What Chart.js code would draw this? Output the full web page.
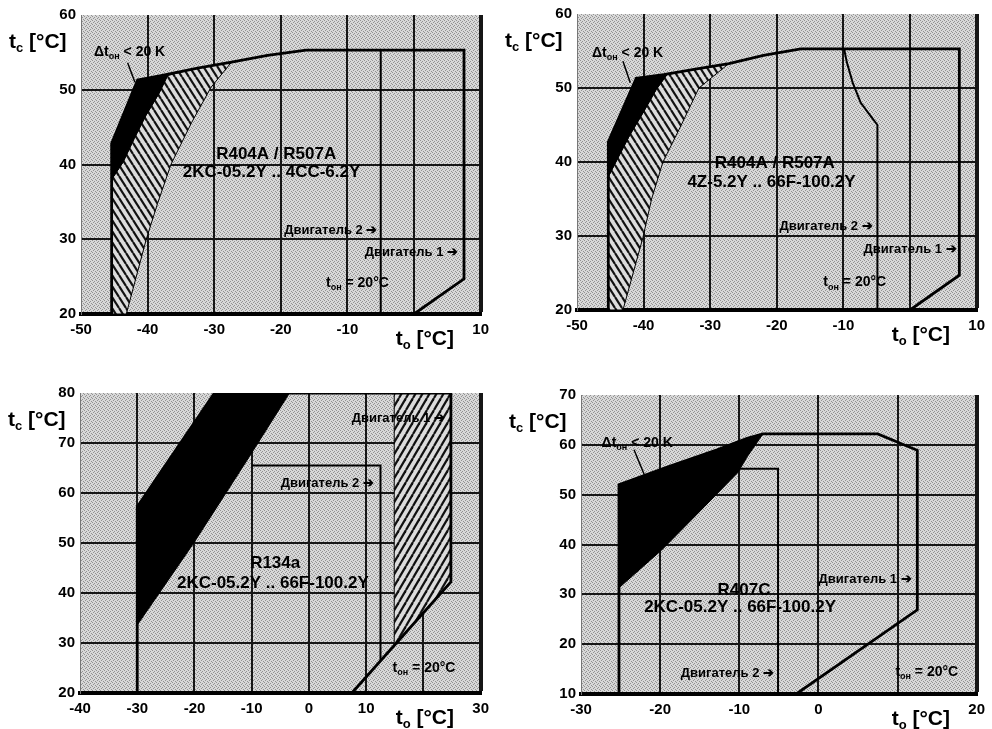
<!DOCTYPE html>
<html lang="ru">
<head>
  <meta charset="UTF-8">
  <title>Области применения компрессоров</title>
  <script src="https://cdn.jsdelivr.net/npm/chart.js"></script>
  <style>
    body { margin: 0; background: #fff; overflow: hidden; }
    canvas { position: absolute; }
  </style>
</head>
<body>

  <canvas id="c1" width="496" height="362" style="left:0;top:0"></canvas>
  <canvas id="c2" width="496" height="362" style="left:496px;top:0"></canvas>
  <canvas id="c3" width="496" height="367" style="left:0;top:362px"></canvas>
  <canvas id="c4" width="496" height="367" style="left:496px;top:362px"></canvas>

  <script>
    // ---- R404A / R507A, 2KC-05.2Y .. 4CC-6.2Y (top left)
    const p1XRange = [-50, 10];
    const p1YRange = [20, 60];
    const p1XLabels = [-50, -40, -30, -20, -10, 10];   // 0 is hidden by the axis title
    const p1YLabels = [20, 30, 40, 50, 60];
    const p1Envelope = [[-45.4, 20], [-45.4, 42.8], [-41.5, 51.3], [-38, 51.9], [-32.5, 52.9], [-27.4, 53.7], [-22, 54.6], [-16.2, 55.3], [7.5, 55.3], [7.5, 24.7], [0, 20]];
    const p1Motor2 = [[-5, 55.3], [-5, 20]];
    const p1Dark = [[-45.4, 38], [-45.4, 42.8], [-41.5, 51.3], [-37, 51.9], [-38.3, 49.5], [-40.3, 46.5], [-42, 43.5], [-43.7, 40.3]];
    const p1Hatch = [[-45.4, 20], [-45.4, 38], [-43.7, 40.3], [-42, 43.5], [-40.3, 46.5], [-38.3, 49.5], [-37, 51.9], [-32.5, 52.9], [-27.4, 53.7], [-30.5, 50.3], [-33.4, 45.6], [-36.5, 40], [-38.5, 34.8], [-40.2, 30], [-43.2, 20]];
    const p1Leader = [[-43, 53.6], [-41.9, 51]];
    const p1Notes = [
      { x: -42.7, y: 55, kind: 'small', text: 'Δt_{он} < 20 K' },
      { x: -20.7, y: 41.3, kind: 'big', text: 'R404A / R507A' },
      { x: -21.4, y: 38.9, kind: 'big', text: '2KC-05.2Y .. 4CC-6.2Y' },
      { x: -12.5, y: 31.2, kind: 'motor', text: 'Двигатель 2 ➔' },
      { x: -0.4, y: 28.3, kind: 'motor', text: 'Двигатель 1 ➔' },
      { x: -8.5, y: 24.1, kind: 'small', text: 't_{он} = 20°C' }
    ];

    // ---- R404A / R507A, 4Z-5.2Y .. 66F-100.2Y (top right)
    const p2XRange = [-50, 10];
    const p2YRange = [20, 60];
    const p2XLabels = [-50, -40, -30, -20, -10, 10];
    const p2YLabels = [20, 30, 40, 50, 60];
    const p2Envelope = [[-45.3, 20], [-45.3, 42.7], [-41.1, 51.3], [-37, 51.8], [-32, 52.6], [-27.2, 53.3], [-22, 54.4], [-16.4, 55.3], [7.4, 55.3], [7.4, 24.7], [0, 20]];
    const p2Motor2 = [[-9.9, 55.3], [-9.5, 53.5], [-8.6, 50.7], [-7.4, 48], [-5.9, 46.2], [-4.9, 45], [-4.9, 20]];
    const p2Dark = [[-45.3, 38], [-45.3, 42.7], [-41.1, 51.3], [-36.5, 51.8], [-38.1, 49.8], [-40, 46.8], [-42.1, 43.6], [-44, 40.3]];
    const p2Hatch = [[-45.3, 20], [-45.3, 38], [-44, 40.3], [-42.1, 43.6], [-40, 46.8], [-38.1, 49.8], [-36.5, 51.8], [-32, 52.6], [-27.2, 53.3], [-31.7, 50], [-34.4, 44.9], [-37.1, 40], [-38.8, 35], [-40.1, 29.8], [-43.1, 20]];
    const p2Leader = [[-43.1, 53.6], [-42, 50.7]];
    const p2Notes = [
      { x: -42.4, y: 54.7, kind: 'small', text: 'Δt_{он} < 20 K' },
      { x: -20.3, y: 39.8, kind: 'big', text: 'R404A / R507A' },
      { x: -20.8, y: 37.3, kind: 'big', text: '4Z-5.2Y .. 66F-100.2Y' },
      { x: -12.6, y: 31.3, kind: 'motor', text: 'Двигатель 2 ➔' },
      { x: 0, y: 28.2, kind: 'motor', text: 'Двигатель 1 ➔' },
      { x: -8.3, y: 23.7, kind: 'small', text: 't_{он} = 20°C' }
    ];

    // ---- R134a (bottom left)
    const p3XRange = [-40, 30];
    const p3YRange = [20, 80];
    const p3XLabels = [-40, -30, -20, -10, 0, 10, 30];
    const p3YLabels = [20, 30, 40, 50, 60, 70, 80];
    const p3Envelope = [[-30, 20], [-30, 57.2], [-16.5, 80], [24.8, 80], [24.8, 42.2], [7.5, 20]];
    const p3Motor2 = [[-10, 65.5], [12.5, 65.5], [12.5, 26.4]];
    const p3Dark = [[-30, 33.6], [-30, 57.2], [-16.5, 80], [-3.4, 80], [-10.4, 67.3], [-20.3, 49.7]];
    const p3Hatch = [[14.9, 80], [24.8, 80], [24.8, 42.2], [14.9, 29.6]];
    const p3Leader = [];
    const p3Notes = [
      { x: 15.6, y: 74.9, kind: 'motor', text: 'Двигатель 1 ➔' },
      { x: 3.2, y: 61.9, kind: 'motor', text: 'Двигатель 2 ➔' },
      { x: -5.9, y: 45.9, kind: 'big', text: 'R134a' },
      { x: -6.3, y: 41.9, kind: 'big', text: '2KC-05.2Y .. 66F-100.2Y' },
      { x: 20.1, y: 24.9, kind: 'small', text: 't_{он} = 20°C' }
    ];

    // ---- R407C (bottom right)
    const p4XRange = [-30, 20];
    const p4YRange = [10, 70];
    const p4XLabels = [-30, -20, -10, 0, 20];
    const p4YLabels = [10, 20, 30, 40, 50, 60, 70];
    const p4Envelope = [[-25.2, 10], [-25.2, 52], [-19, 55.6], [-12.8, 59], [-9, 61.3], [-7, 62.2], [7.5, 62.2], [12.5, 58.9], [12.5, 26.9], [-2.8, 10]];
    const p4Motor2 = [[-10.1, 55.2], [-5.1, 55.2], [-5.1, 10]];
    const p4Dark = [[-25.2, 31.3], [-25.2, 52], [-19, 55.6], [-12.8, 59], [-9, 61.3], [-7, 62.2], [-9, 57.6], [-10.2, 54.4], [-14.4, 47.6], [-19.8, 38.9]];
    const p4Hatch = [];
    const p4Leader = [[-23.3, 59], [-22, 54]];
    const p4Notes = [
      { x: -22.9, y: 60.4, kind: 'small', text: 'Δt_{он} < 20 K' },
      { x: -9.4, y: 30.9, kind: 'big', text: 'R407C' },
      { x: -9.9, y: 27.3, kind: 'big', text: '2KC-05.2Y .. 66F-100.2Y' },
      { x: 5.9, y: 32.9, kind: 'motor', text: 'Двигатель 1 ➔' },
      { x: -11.5, y: 14.2, kind: 'motor', text: 'Двигатель 2 ➔' },
      { x: 13.7, y: 14.4, kind: 'small', text: 't_{он} = 20°C' }
    ];

    const FAMILY = '"Liberation Sans", Arial, sans-serif';
    const noteSize = { big: 17, motor: 13, small: 14, axis: 21 };
    Chart.defaults.font.family = FAMILY;

    // small canvas tiles used as fill patterns
    function tile(w, h, paint) {
      const c = document.createElement('canvas');
      c.width = w; c.height = h;
      const g = c.getContext('2d');
      paint(g, w, h);
      return g.createPattern(c, 'repeat');
    }
    const halftone = tile(4, 4, (g, w, h) => {
      g.fillStyle = '#d8d8d8';
      g.fillRect(0, 0, w, h);
      g.fillStyle = '#929292';
      [[0, 0], [2, 1], [1, 2], [3, 3]].forEach(([x, y]) => g.fillRect(x, y, 1, 1));
    });
    function hatch(w, h, rising) {
      return tile(w, h, (g) => {
        g.fillStyle = '#dcdcdc';
        g.fillRect(0, 0, w, h);
        g.strokeStyle = '#111';
        g.lineWidth = 2.2;
        for (const dx of [-w, 0, w]) {
          g.beginPath();
          if (rising) { g.moveTo(dx, h); g.lineTo(dx + w, 0); }
          else { g.moveTo(dx, 0); g.lineTo(dx + w, h); }
          g.stroke();
        }
      });
    }

    const pts = a => a.map(([x, y]) => ({ x, y }));
    const line = (a, w, order) => ({
      data: pts(a), showLine: true, fill: false, borderColor: '#000',
      borderWidth: w, pointRadius: 0, order: order
    });
    const area = (a, bg, order) => ({
      data: pts(a.length ? a.concat([a[0]]) : a), showLine: true, fill: 'shape',
      backgroundColor: bg, borderColor: '#000', borderWidth: 1, pointRadius: 0, order: order
    });

    // text with _{...} subscripts
    function drawRich(ctx, str, x, y, size, align) {
      const parts = str.split(/_\{([^}]*)\}/);
      const fontFor = i => `bold ${i % 2 ? Math.round(size * 0.62) : size}px ${FAMILY}`;
      let w = 0;
      parts.forEach((p, i) => { ctx.font = fontFor(i); w += ctx.measureText(p).width; });
      let cx = align === 'center' ? x - w / 2 : x;
      ctx.textAlign = 'left';
      parts.forEach((p, i) => {
        ctx.font = fontFor(i);
        ctx.fillText(p, cx, i % 2 ? y + size * 0.32 : y);
        cx += ctx.measureText(p).width;
      });
    }

    const backdrop = {
      id: 'backdrop',
      beforeDraw(chart) {
        const { ctx, chartArea: a } = chart;
        ctx.save();
        ctx.fillStyle = halftone;
        ctx.fillRect(a.left, a.top, a.width, a.height);
        ctx.restore();
      }
    };

    const notesPlugin = {
      id: 'notes',
      afterDatasetsDraw(chart, args, opts) {
        const { ctx, chartArea: a, scales: { x, y } } = chart;
        ctx.save();
        ctx.fillStyle = '#000';
        ctx.textBaseline = 'middle';
        for (const n of opts.items) {
          drawRich(ctx, n.text, x.getPixelForValue(n.x), y.getPixelForValue(n.y), noteSize[n.kind], 'center');
        }
        drawRich(ctx, 't_{c} [°C]', a.left - 72, a.top + 27, noteSize.axis, 'left');
        drawRich(ctx, 't_{o} [°C]', a.right - 85, a.bottom + 25, noteSize.axis, 'left');
        ctx.restore();
      }
    };

    // grid every 10 degrees; only listed values get a label
    function steps(range) {
      const out = [];
      for (let v = range[0]; v <= range[1]; v += 10) out.push({ value: v });
      return out;
    }

    function panel(id, p) {
      const [xMin, xMax] = p.xRange;
      const [yMin, yMax] = p.yRange;
      const datasets = [
        line(p.envelope, 2.8, 0),
        line(p.motor2, 2, 0),
        line(p.leader, 1.5, 0),
        area(p.dark, '#000', 2),
        area(p.hatch, p.pattern, 3)
      ];
      const tickFont = { size: 15, weight: 'bold' };
      return new Chart(document.getElementById(id), {
        type: 'scatter',
        data: { datasets },
        options: {
          responsive: false,
          devicePixelRatio: 1,
          animation: false,
          events: [],
          locale: 'en-US',
          layout: { padding: { top: p.box.top, right: p.box.right, left: 0, bottom: 0 } },
          plugins: { legend: { display: false }, tooltip: { enabled: false }, notes: { items: p.notes } },
          scales: {
            x: {
              type: 'linear', min: xMin, max: xMax,
              afterBuildTicks: s => { s.ticks = steps(p.xRange); },
              afterFit: s => { s.height = p.box.xh; },
              ticks: {
                color: '#000', font: tickFont, padding: 7, maxRotation: 0, autoSkip: false,
                callback: v => p.xLabels.includes(v) ? String(v) : ''
              },
              grid: {
                drawTicks: false,
                color: c => (c.tick && c.tick.value === xMin) ? 'rgba(0,0,0,0)' : '#161616',
                lineWidth: c => (c.tick && c.tick.value === xMax) ? 4 : 2
              },
              border: { color: '#000', width: 4 }
            },
            y: {
              type: 'linear', min: yMin, max: yMax,
              afterBuildTicks: s => { s.ticks = steps(p.yRange); },
              afterFit: s => { s.width = p.box.yw; },
              ticks: {
                color: '#000', font: tickFont, padding: 5, autoSkip: false,
                callback: v => p.yLabels.includes(v) ? String(v) : ''
              },
              grid: {
                drawTicks: false,
                color: c => (c.tick && (c.tick.value === yMax || c.tick.value === yMin)) ? 'rgba(0,0,0,0)' : '#161616',
                lineWidth: 2
              },
              border: { color: '#777', width: 1 }
            }
          }
        },
        plugins: [backdrop, notesPlugin]
      });
    }

    panel('c1', {
      xRange: p1XRange, yRange: p1YRange, xLabels: p1XLabels, yLabels: p1YLabels,
      envelope: p1Envelope, motor2: p1Motor2, dark: p1Dark, hatch: p1Hatch, leader: p1Leader, notes: p1Notes,
      pattern: hatch(7, 11, false), box: { top: 15, right: 11, yw: 81, xh: 48 }
    });
    panel('c2', {
      xRange: p2XRange, yRange: p2YRange, xLabels: p2XLabels, yLabels: p2YLabels,
      envelope: p2Envelope, motor2: p2Motor2, dark: p2Dark, hatch: p2Hatch, leader: p2Leader, notes: p2Notes,
      pattern: hatch(7, 11, false), box: { top: 10, right: 11, yw: 81, xh: 52 }
    });
    panel('c3', {
      xRange: p3XRange, yRange: p3YRange, xLabels: p3XLabels, yLabels: p3YLabels,
      envelope: p3Envelope, motor2: p3Motor2, dark: p3Dark, hatch: p3Hatch, leader: p3Leader, notes: p3Notes,
      pattern: hatch(7, 12, true), box: { top: 31, right: 14, yw: 80, xh: 36 }
    });
    panel('c4', {
      xRange: p4XRange, yRange: p4YRange, xLabels: p4XLabels, yLabels: p4YLabels,
      envelope: p4Envelope, motor2: p4Motor2, dark: p4Dark, hatch: p4Hatch, leader: p4Leader, notes: p4Notes,
      pattern: hatch(7, 11, false), box: { top: 33, right: 8, yw: 85, xh: 35 }
    });
  </script>
</body>
</html>
